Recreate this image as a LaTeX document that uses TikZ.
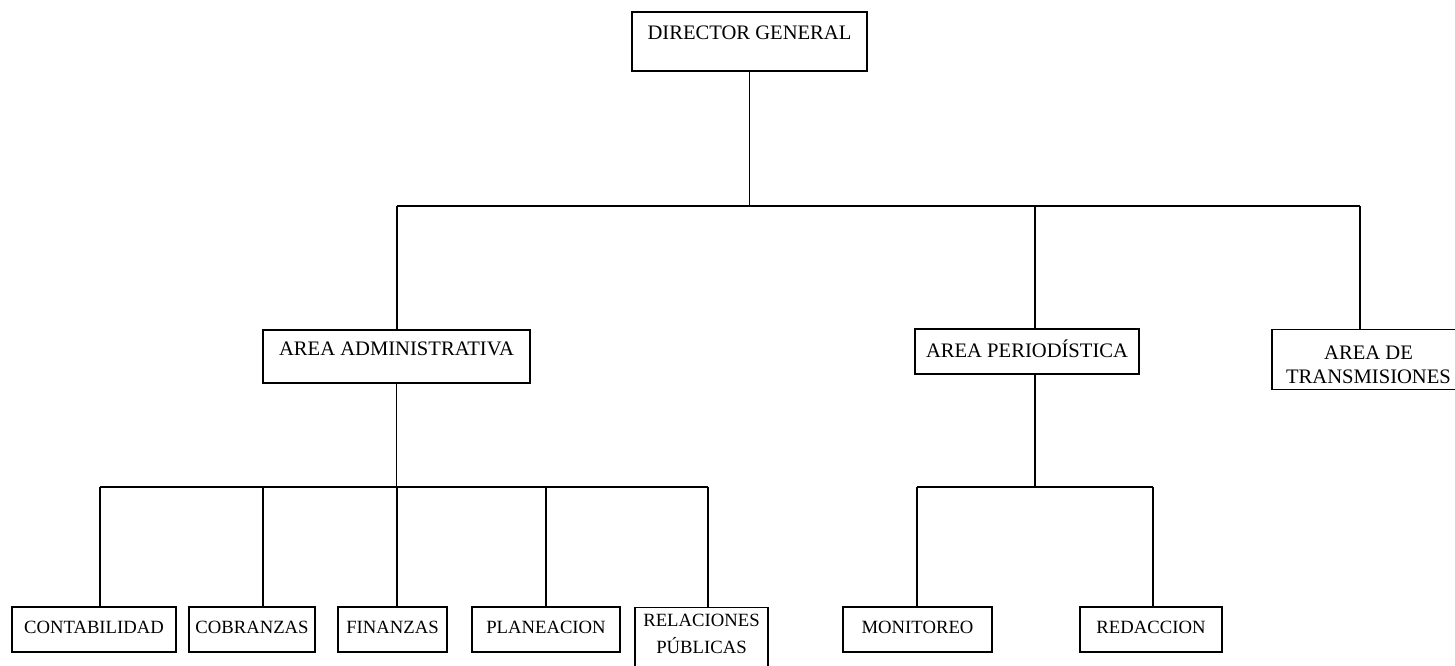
\documentclass[tikz,border=0pt]{standalone}
\usepackage{fontspec}
\setmainfont{Liberation Serif}
\tikzset{
  orgbox/.style={draw, line width=1.1pt, inner xsep=0pt, inner ysep=0pt,
    align=center, font=\fontsize{18.7}{24}\selectfont},
  bigbox/.style={orgbox, font=\fontsize{20.6}{24}\selectfont},
  link/.style={line width=1.1pt}
}
\begin{document}
\begin{tikzpicture}[x=1pt,y=-1pt]
\useasboundingbox (0,0) rectangle (1455,665);
% top level
\node[bigbox, anchor=base, minimum width=235, text height=27, text depth=32] (dg) at (749.5,39) {DIRECTOR GENERAL};
% second level
\node[bigbox, anchor=base, minimum width=267, text height=25, text depth=28] (adm) at (396.5,355) {AREA ADMINISTRATIVA};
\node[bigbox, anchor=base, minimum width=224, text height=28, text depth=17] (per) at (1027,357) {AREA PERIODÍSTICA};
\node[bigbox, anchor=north, minimum width=193] (tr) at (1368.5,329) {\rule{0pt}{30pt}AREA DE\\TRANSMISIONES\rule[-6pt]{0pt}{0pt}};
% third level
\node[orgbox, anchor=base, minimum width=164, text height=26, text depth=19] (con) at (94,633) {CONTABILIDAD};
\node[orgbox, anchor=base, minimum width=126, text height=26, text depth=19] (cob) at (252,633) {COBRANZAS};
\node[orgbox, anchor=base, minimum width=109, text height=26, text depth=19] (fin) at (392.5,633) {FINANZAS};
\node[orgbox, anchor=base, minimum width=148, text height=26, text depth=19] (pla) at (546,633) {PLANEACION};
\node[orgbox, anchor=north, minimum width=133] (rel) at (701.5,607) {\rule{0pt}{19pt}RELACIONES\\[3pt]PÚBLICAS\rule[-27pt]{0pt}{0pt}};
\node[orgbox, anchor=base, minimum width=149, text height=26, text depth=19] (mon) at (917.5,633) {MONITOREO};
\node[orgbox, anchor=base, minimum width=142, text height=26, text depth=19] (red) at (1151,633) {REDACCION};
% junctions
\coordinate (t1) at (397,206);
\coordinate (t2) at (1035,206);
\coordinate (t3) at (1360,206);
\coordinate (a1) at (100,487);
\coordinate (a2) at (263,487);
\coordinate (a3) at (397,487);
\coordinate (a4) at (546,487);
\coordinate (a5) at (708,487);
\coordinate (p0) at (1035,487);
\coordinate (p1) at (917,487);
\coordinate (p2) at (1153,487);
% connectors
\draw[link] (dg.south) -- (dg.south |- t1);
\draw[link] (t1) -- (t3);
\draw[link] (t1) -- (t1 |- adm.north);
\draw[link] (t2) -- (t2 |- per.north);
\draw[link] (t3) -- (t3 |- tr.north);
\draw[link] (adm.south) -- (adm.south |- a1);
\draw[link] (a1) -- (a5);
\draw[link] (a1) -- (a1 |- con.north);
\draw[link] (a2) -- (a2 |- cob.north);
\draw[link] (a3) -- (a3 |- fin.north);
\draw[link] (a4) -- (a4 |- pla.north);
\draw[link] (a5) -- (a5 |- rel.north);
\draw[link] (p0 |- per.south) -- (p0);
\draw[link] (p1) -- (p2);
\draw[link] (p1) -- (p1 |- mon.north);
\draw[link] (p2) -- (p2 |- red.north);
\end{tikzpicture}
\end{document}
